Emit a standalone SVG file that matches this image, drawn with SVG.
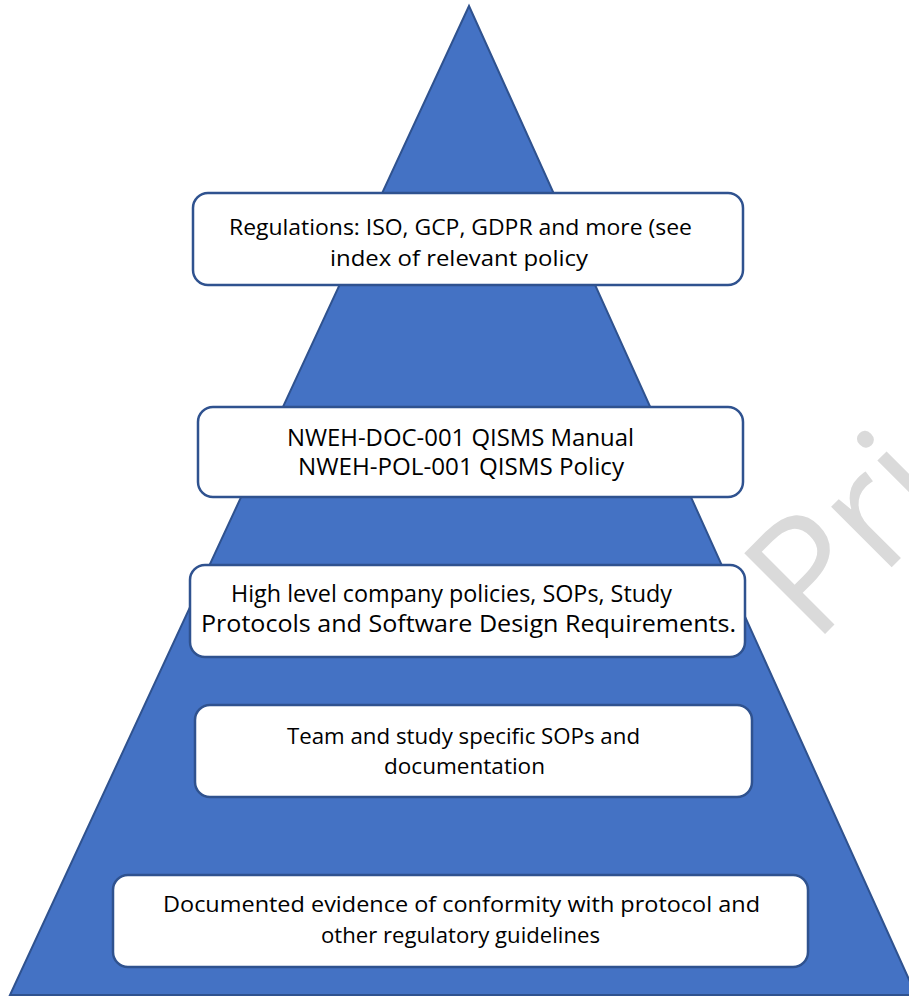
<svg xmlns="http://www.w3.org/2000/svg" width="909" height="997" viewBox="0 0 909 997">
  <style>
    .tier { fill: #4472C4; stroke: #2F528F; stroke-width: 2; stroke-linejoin: miter; }
    .box { fill: #FFFFFF; stroke: #2F528F; stroke-width: 2.5; }
    .label { font-family: "Open Sans", "Noto Sans", "Liberation Sans", sans-serif; font-size: 22.5px; fill: #000000; }
    .mark { font-family: "Open Sans", "Noto Sans", "Liberation Sans", sans-serif; font-size: 160px; fill: #DADADA; }
  </style>
  <rect width="909" height="997" fill="#FFFFFF"/>

  <!-- faint watermark, sits behind the pyramid -->
  <text class="mark" transform="translate(814,645) rotate(-45)" x="0" y="0">Pri</text>

  <!-- pyramid body -->
  <g id="pyramid">
    <polygon class="tier" points="469,6 10,995 916,995"/>
  </g>

  <g id="connectors"></g>

  <g id="regulations">
    <rect class="box" x="193" y="193" width="550" height="92" rx="15"/>
    <text class="label" x="229" y="235" textLength="463" lengthAdjust="spacingAndGlyphs">Regulations: ISO, GCP, GDPR and more (see</text>
    <text class="label" x="330" y="266" textLength="258" lengthAdjust="spacingAndGlyphs">index of relevant policy</text>
  </g>

  <g id="qisms">
    <rect class="box" x="198" y="407" width="545" height="90" rx="15"/>
    <text class="label" style="font-size:23px" x="287" y="446" textLength="347" lengthAdjust="spacingAndGlyphs">NWEH-DOC-001 QISMS Manual</text>
    <text class="label" style="font-size:23px" x="298" y="475" textLength="326" lengthAdjust="spacingAndGlyphs">NWEH-POL-001 QISMS Policy</text>
  </g>

  <g id="company-policies">
    <rect class="box" x="190" y="565" width="555" height="92" rx="15"/>
    <text class="label" style="font-size:24.5px" x="231" y="602" textLength="441" lengthAdjust="spacingAndGlyphs">High level company policies, SOPs, Study</text>
    <text class="label" style="font-size:24.5px" x="201" y="632" textLength="535" lengthAdjust="spacingAndGlyphs">Protocols and Software Design Requirements.</text>
  </g>

  <g id="team-sops">
    <rect class="box" x="195" y="705" width="557" height="92" rx="15"/>
    <text class="label" style="font-size:22px" x="287" y="744" textLength="353" lengthAdjust="spacingAndGlyphs">Team and study specific SOPs and</text>
    <text class="label" style="font-size:22px" x="384" y="774" textLength="161" lengthAdjust="spacingAndGlyphs">documentation</text>
  </g>

  <g id="evidence">
    <rect class="box" x="113" y="875" width="695" height="92" rx="15"/>
    <text class="label" style="font-size:21.6px" x="163" y="912" textLength="597" lengthAdjust="spacingAndGlyphs">Documented evidence of conformity with protocol and</text>
    <text class="label" style="font-size:21.6px" x="321" y="943" textLength="279" lengthAdjust="spacingAndGlyphs">other regulatory guidelines</text>
  </g>
</svg>
